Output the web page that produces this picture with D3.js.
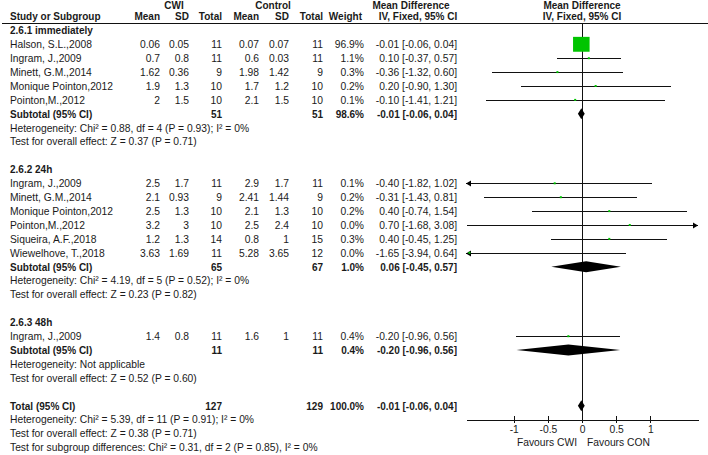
<!DOCTYPE html>
<html>
<head>
<meta charset="utf-8">
<script src="https://cdn.jsdelivr.net/npm/d3@7"></script>
<style>
  html, body { margin: 0; padding: 0; background: #fff; }
  text { font-family: "Liberation Sans", Arial, sans-serif; font-size: 10.3px; fill: #1a1a1a; }
  .b { font-weight: bold; font-size: 10px; }
</style>
</head>
<body>
<div id="chart"></div>
<script>
//Datos del forest plot
const groupTitles = ['2.6.1 immediately', '2.6.2 24h', '2.6.3 48h'];
const studyGroup = [0, 0, 0, 0, 0, 1, 1, 1, 1, 1, 1, 2];
const studyNames = ['Halson, S.L.,2008', 'Ingram, J.,2009', 'Minett, G.M.,2014', 'Monique Pointon,2012', 'Pointon,M.,2012',
    'Ingram, J.,2009', 'Minett, G.M.,2014', 'Monique Pointon,2012', 'Pointon,M.,2012', 'Siqueira, A.F.,2018', 'Wiewelhove, T.,2018',
    'Ingram, J.,2009'];
const cwiMean = [0.06, 0.7, 1.62, 1.9, 2, 2.5, 2.1, 2.5, 3.2, 1.2, 3.63, 1.4];
const cwiSD = [0.05, 0.8, 0.36, 1.3, 1.5, 1.7, 0.93, 1.3, 3, 1.3, 1.69, 0.8];
const cwiN = [11, 11, 9, 10, 10, 11, 9, 10, 10, 14, 11, 11];
const conMean = [0.07, 0.6, 1.98, 1.7, 2.1, 2.9, 2.41, 2.1, 2.5, 0.8, 5.28, 1.6];
const conSD = [0.07, 0.03, 1.42, 1.2, 1.5, 1.7, 1.44, 1.3, 2.4, 1, 3.65, 1];
const conN = [11, 11, 9, 10, 10, 11, 9, 10, 10, 15, 12, 11];
const weights = [96.9, 1.1, 0.3, 0.2, 0.1, 0.1, 0.2, 0.2, 0.0, 0.3, 0.0, 0.4];
const md = [-0.01, 0.10, -0.36, 0.20, -0.10, -0.40, -0.31, 0.40, 0.70, 0.40, -1.65, -0.20];
const mdLo = [-0.06, -0.37, -1.32, -0.90, -1.41, -1.82, -1.43, -0.74, -1.68, -0.45, -3.94, -0.96];
const mdHi = [0.04, 0.57, 0.60, 1.30, 1.21, 1.02, 0.81, 1.54, 3.08, 1.25, 0.64, 0.56];

const subCwiN = [51, 65, 11];
const subConN = [51, 67, 11];
const subWeight = [98.6, 1.0, 0.4];
const subMd = [-0.01, 0.06, -0.20];
const subLo = [-0.06, -0.45, -0.96];
const subHi = [0.04, 0.57, 0.56];
const subHet = ['Heterogeneity: Chi² = 0.88, df = 4 (P = 0.93); I² = 0%',
    'Heterogeneity: Chi² = 4.19, df = 5 (P = 0.52); I² = 0%',
    'Heterogeneity: Not applicable'];
const subTest = ['Test for overall effect: Z = 0.37 (P = 0.71)',
    'Test for overall effect: Z = 0.23 (P = 0.82)',
    'Test for overall effect: Z = 0.52 (P = 0.60)'];

const totalCwiN = 127, totalConN = 129, totalWeight = 100.0;
const totalMd = -0.01, totalLo = -0.06, totalHi = 0.04;
const totalNotes = ['Heterogeneity: Chi² = 5.39, df = 11 (P = 0.91); I² = 0%',
    'Test for overall effect: Z = 0.38 (P = 0.71)',
    'Test for subgroup differences: Chi² = 0.31, df = 2 (P = 0.85), I² = 0%'];

const xTicks = [-1, -0.5, 0, 0.5, 1];
const xDomain = [-1.7, 1.7];

//Colores
const COLOR_SQUARE = '#00c400',
COLOR_LINE = '#111';

//////VISUALIZACIÓN
let width = 708, height = 455;
let rowY = function(i) { return 16.5 + i * 13.9; };
let col = { study: 10, cm: 160, cs: 189, cn: 222, km: 259, ks: 289, kn: 323, w: 364, ci: 457 };

let svg = d3.select('#chart')
    .append('svg')
    .attr('width', width)
    .attr('height', height);

let x = d3.scaleLinear().domain(xDomain).range([466, 698]);
let size = d3.scaleSqrt().domain([0, 100]).range([0, 16.8]);

function fmt(v) { return v.toFixed(2); }
function ciText(m, lo, hi) { return fmt(m) + ' [' + fmt(lo) + ', ' + fmt(hi) + ']'; }

function txt(str, xp, i, anchor, bold) {
    svg.append('text')
        .attr('x', xp)
        .attr('y', rowY(i) + 3.8)
        .attr('text-anchor', anchor || 'start')
        .attr('class', bold ? 'b' : null)
        .text(str);
}

function diamond(m, lo, hi, i, hh) {
    let y = rowY(i);
    svg.append('path')
        .attr('d', 'M' + x(lo) + ',' + y + 'L' + x(m) + ',' + (y - hh) + 'L' + x(hi) + ',' + y + 'L' + x(m) + ',' + (y + hh) + 'Z')
        .attr('fill', '#000');
}

// Cabecera
let headRow = -0.85;
txt('CWI', 174, headRow, 'middle', true);
txt('Control', 273, headRow, 'middle', true);
txt('Mean Difference', 411, headRow, 'middle', true);
txt('Mean Difference', x(0), headRow, 'middle', true);
txt('Study or Subgroup', col.study, 0, 'start', true);
txt('Mean', col.cm, 0, 'end', true);
txt('SD', col.cs, 0, 'end', true);
txt('Total', col.cn, 0, 'end', true);
txt('Mean', col.km, 0, 'end', true);
txt('SD', col.ks, 0, 'end', true);
txt('Total', col.kn, 0, 'end', true);
txt('Weight', 362, 0, 'end', true);
txt('IV, Fixed, 95% CI', 418, 0, 'middle', true);
txt('IV, Fixed, 95% CI', x(0), 0, 'middle', true);

svg.append('line')
    .attr('x1', 2).attr('x2', width)
    .attr('y1', 23.5).attr('y2', 23.5)
    .attr('stroke', COLOR_LINE)
    .attr('shape-rendering', 'crispEdges');

// Línea del cero
let axisY = 419.5;
svg.append('line')
    .attr('x1', Math.round(x(0)) + 0.5).attr('x2', Math.round(x(0)) + 0.5)
    .attr('y1', 23.5).attr('y2', axisY)
    .attr('stroke', COLOR_LINE)
    .attr('shape-rendering', 'crispEdges');

// Filas
let row = 1;
groupTitles.forEach(function(title, g) {
    txt(title, col.study, row, 'start', true);
    row++;
    studyNames.forEach(function(name, k) {
        if (studyGroup[k] !== g) return;
        txt(name, col.study, row);
        txt(String(cwiMean[k]), col.cm, row, 'end');
        txt(String(cwiSD[k]), col.cs, row, 'end');
        txt(String(cwiN[k]), col.cn, row, 'end');
        txt(String(conMean[k]), col.km, row, 'end');
        txt(String(conSD[k]), col.ks, row, 'end');
        txt(String(conN[k]), col.kn, row, 'end');
        txt(weights[k].toFixed(1) + '%', col.w, row, 'end');
        txt(ciText(md[k], mdLo[k], mdHi[k]), col.ci, row, 'end');

        let y = Math.round(rowY(row)) + 0.5;
        let lo = Math.max(mdLo[k], xDomain[0]), hi = Math.min(mdHi[k], xDomain[1]);
        svg.append('line')
            .attr('x1', x(lo)).attr('x2', x(hi))
            .attr('y1', y).attr('y2', y)
            .attr('stroke', COLOR_LINE)
            .attr('shape-rendering', 'crispEdges');
        if (mdLo[k] < xDomain[0]) {
            let ax = x(xDomain[0]);
            svg.append('path').attr('d', 'M' + ax + ',' + y + 'l5,-3l0,6Z').attr('fill', '#000');
        }
        if (mdHi[k] > xDomain[1]) {
            let ax = x(xDomain[1]);
            svg.append('path').attr('d', 'M' + ax + ',' + y + 'l-5,-3l0,6Z').attr('fill', '#000');
        }
        let s = Math.max(2, size(weights[k]));
        let sh = Math.max(2, s * 0.9);
        svg.append('rect')
            .attr('x', x(md[k]) - s / 2)
            .attr('y', rowY(row) - sh / 2)
            .attr('width', s)
            .attr('height', sh)
            .attr('fill', COLOR_SQUARE);
        row++;
    });
    txt('Subtotal (95% CI)', col.study, row, 'start', true);
    txt(String(subCwiN[g]), col.cn, row, 'end', true);
    txt(String(subConN[g]), col.kn, row, 'end', true);
    txt(subWeight[g].toFixed(1) + '%', col.w, row, 'end', true);
    txt(ciText(subMd[g], subLo[g], subHi[g]), col.ci, row, 'end', true);
    diamond(subMd[g], subLo[g], subHi[g], row, 5.5);
    row++;
    txt(subHet[g], col.study, row);
    row++;
    txt(subTest[g], col.study, row);
    row += 2;
});

txt('Total (95% CI)', col.study, row, 'start', true);
txt(String(totalCwiN), col.cn, row, 'end', true);
txt(String(totalConN), col.kn, row, 'end', true);
txt(totalWeight.toFixed(1) + '%', col.w, row, 'end', true);
txt(ciText(totalMd, totalLo, totalHi), col.ci, row, 'end', true);
diamond(totalMd, totalLo, totalHi, row, 5.5);
row++;
totalNotes.forEach(function(n) { txt(n, col.study, row); row++; });

// Eje X
let xAxis = function(g) {
    g.call(d3.axisBottom(x).tickValues(xTicks).tickSizeOuter(0).tickFormat(function(d) { return String(d); }));
    g.select('.domain').attr('stroke', COLOR_LINE).attr('shape-rendering', 'crispEdges');
    g.selectAll('.tick line').attr('y1', -4).attr('y2', 3).attr('stroke', COLOR_LINE).attr('shape-rendering', 'crispEdges');
    g.selectAll('.tick text').attr('y', 13.5).attr('dy', null)
        .style('font-family', '"Liberation Sans", Arial, sans-serif').style('font-size', '10.3px').attr('fill', '#1a1a1a');
};
svg.append('g')
    .attr('transform', 'translate(0,' + axisY + ')')
    .call(xAxis);

svg.append('text').attr('x', x(0) - 5).attr('y', 445.5).attr('text-anchor', 'end').text('Favours CWI');
svg.append('text').attr('x', x(0) + 5).attr('y', 445.5).attr('text-anchor', 'start').text('Favours CON');
</script>
</body>
</html>
